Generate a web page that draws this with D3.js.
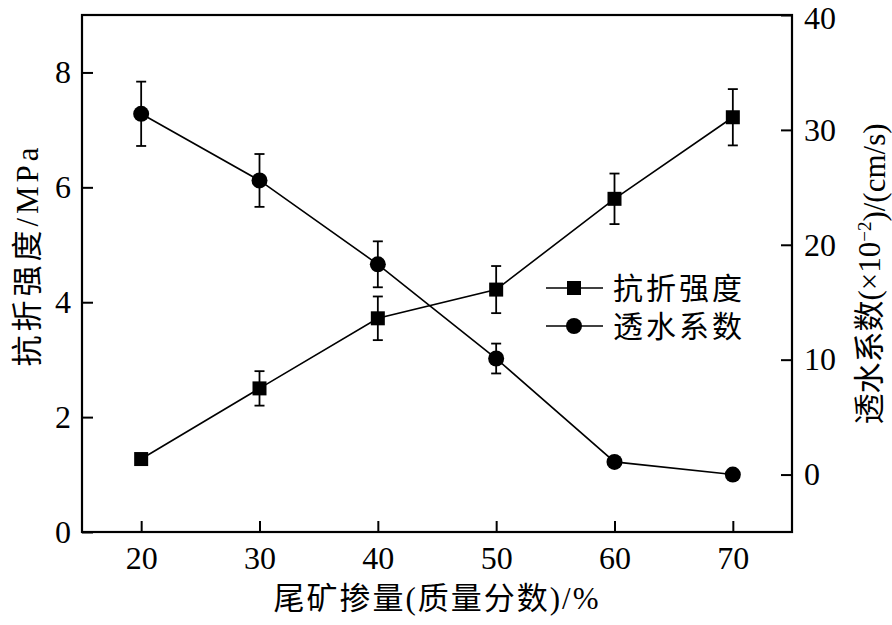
<!DOCTYPE html>
<html>
  <head>
    <meta charset="utf-8">
    <script src="https://d3js.org/d3.v7.min.js"></script>
    <style>
      body { margin: 0; background: #fff; }
      text { font-family: "Liberation Serif", "Times New Roman", "Noto Sans CJK SC", serif; fill: #000; }
      .axis path { display: none; }
      .axis line { stroke: #000; stroke-width: 2px; }
      .axis text { font-size: 32px; }
      .series { fill: none; stroke: #000; stroke-width: 1.6px; }
      .err { stroke: #000; stroke-width: 1.8px; }
    </style>
  </head>
  <body>
    <div id="chart"></div>
    <script>
        // 尾矿掺量 (%)
        var mix = [20, 30, 40, 50, 60, 70]
        // 抗折强度 (MPa) and its error
        var strength = [1.27, 2.50, 3.72, 4.22, 5.80, 7.22]
        var strengthErr = [0, 0.30, 0.38, 0.41, 0.44, 0.49]
        // 透水系数 (x10^-2 cm/s) and its error
        var perm = [31.4, 25.6, 18.3, 10.1, 1.1, 0.0]
        var permErr = [2.8, 2.3, 2.0, 1.3, 0, 0]

        var xTicks = [20, 30, 40, 50, 60, 70]
        var leftTicks = [0, 2, 4, 6, 8]
        var rightTicks = [0, 10, 20, 30, 40]

        var width = 892, height = 625
        var plotL = 82, plotR = 792, plotT = 15, plotB = 532

        var svg = d3.select("#chart").append("svg")
            .attr("width", width)
            .attr("height", height)

        var x = d3.scaleLinear().domain([15, 75]).range([plotL, plotR])
        var yL = d3.scaleLinear().domain([0, 9]).range([plotB, plotT])
        var yR = d3.scaleLinear().domain([-5, 40]).range([plotB, plotT])

        // axes, ticks pointing inward
        svg.append("g").attr("class", "axis")
            .attr("transform", "translate(0," + plotB + ")")
            .call(d3.axisBottom(x).tickValues(xTicks).tickSize(-11).tickPadding(14))

        svg.append("g").attr("class", "axis")
            .attr("transform", "translate(" + plotL + ",0)")
            .call(d3.axisLeft(yL).tickValues(leftTicks).tickSize(-11).tickPadding(11))

        var rAxis = svg.append("g").attr("class", "axis")
            .attr("transform", "translate(" + plotR + ",0)")
            .call(d3.axisRight(yR).tickValues(rightTicks).tickSize(-11).tickPadding(12))
        // keep the top label inside the page
        rAxis.selectAll(".tick text").filter(function(d) { return d === 40 }).attr("dy", "0.42em")

        // frame
        svg.append("rect")
            .attr("x", plotL).attr("y", plotT)
            .attr("width", plotR - plotL).attr("height", plotB - plotT)
            .attr("fill", "none").attr("stroke", "#000").attr("stroke-width", 2.2)

        var capW = 5

        function errorBars(vals, errs, y) {
            var g = svg.append("g")
            mix.forEach(function(m, i) {
                if (!errs[i]) return
                var cx = x(m), y1 = y(vals[i] + errs[i]), y2 = y(vals[i] - errs[i])
                g.append("line").attr("class", "err").attr("x1", cx).attr("x2", cx).attr("y1", y1).attr("y2", y2)
                g.append("line").attr("class", "err").attr("x1", cx - capW).attr("x2", cx + capW).attr("y1", y1).attr("y2", y1)
                g.append("line").attr("class", "err").attr("x1", cx - capW).attr("x2", cx + capW).attr("y1", y2).attr("y2", y2)
            })
        }

        errorBars(strength, strengthErr, yL)
        errorBars(perm, permErr, yR)

        var lineL = d3.line().x(function(d, i) { return x(mix[i]) }).y(function(d) { return yL(d) })
        var lineR = d3.line().x(function(d, i) { return x(mix[i]) }).y(function(d) { return yR(d) })

        svg.append("path").attr("class", "series").attr("d", lineL(strength))
        svg.append("path").attr("class", "series").attr("d", lineR(perm))

        var sq = 14, r = 8

        svg.append("g").selectAll("rect").data(strength).enter().append("rect")
            .attr("x", function(d, i) { return x(mix[i]) - sq / 2 })
            .attr("y", function(d) { return yL(d) - sq / 2 })
            .attr("width", sq).attr("height", sq).attr("fill", "#000")

        svg.append("g").selectAll("circle").data(perm).enter().append("circle")
            .attr("cx", function(d, i) { return x(mix[i]) })
            .attr("cy", function(d) { return yR(d) })
            .attr("r", r).attr("fill", "#000")

        // legend
        var leg = svg.append("g")
        leg.append("line").attr("x1", 546).attr("x2", 603).attr("y1", 288).attr("y2", 288).attr("stroke", "#000").attr("stroke-width", 1.6)
        leg.append("rect").attr("x", 574 - sq / 2).attr("y", 288 - sq / 2).attr("width", sq).attr("height", sq).attr("fill", "#000")
        leg.append("text").attr("x", 613).attr("y", 299).style("font-size", "30px").style("letter-spacing", "3px").text("抗折强度")
        leg.append("line").attr("x1", 546).attr("x2", 603).attr("y1", 326).attr("y2", 326).attr("stroke", "#000").attr("stroke-width", 1.6)
        leg.append("circle").attr("cx", 574).attr("cy", 326).attr("r", r).attr("fill", "#000")
        leg.append("text").attr("x", 613).attr("y", 337).style("font-size", "30px").style("letter-spacing", "3px").text("透水系数")

        // axis titles
        svg.append("text")
            .attr("x", (plotL + plotR) / 2).attr("y", 609)
            .attr("text-anchor", "middle").style("font-size", "31px").style("letter-spacing", "2px")
            .text("尾矿掺量(质量分数)/%")

        svg.append("text")
            .attr("transform", "translate(38," + 255 + ") rotate(-90)")
            .attr("text-anchor", "middle").style("font-size", "31px").style("letter-spacing", "4px")
            .text("抗折强度/MPa")

        var rt = svg.append("text")
            .attr("transform", "translate(880," + 274 + ") rotate(-90)")
            .attr("text-anchor", "middle").style("font-size", "31px")
        rt.append("tspan").text("透水系数(×10")
        rt.append("tspan").attr("dy", "-0.45em").style("font-size", "19px").text("−2")
        rt.append("tspan").attr("dy", "0.45em").text(")/(cm/s)")
    </script>
  </body>
</html>
